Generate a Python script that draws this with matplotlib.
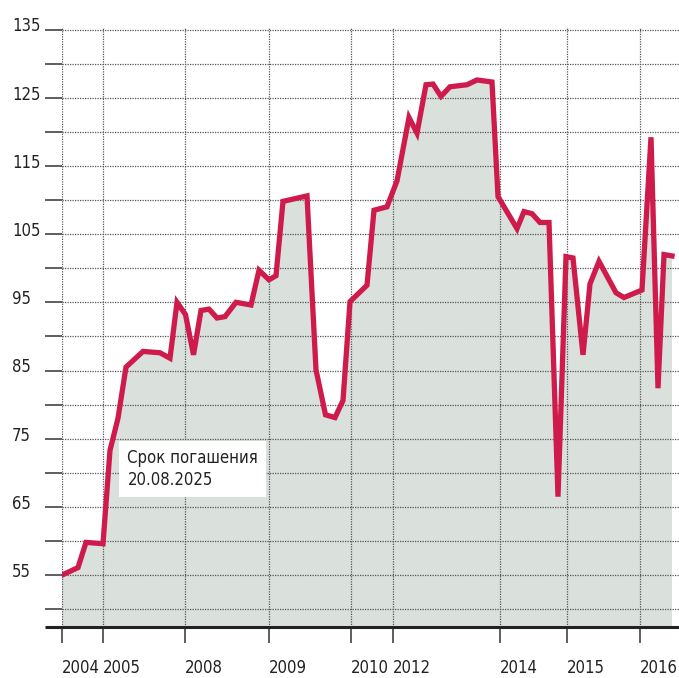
import matplotlib
matplotlib.use('Agg')
import matplotlib.pyplot as plt
import matplotlib.transforms as mtransforms
from matplotlib import font_manager

# narrow font if available, otherwise Roboto
_fonts = font_manager.fontManager.ttflist
if any(f.name == 'Liberation Sans Narrow' for f in _fonts):
    FAMILY, STRETCH, FS = 'Liberation Sans Narrow', 'normal', 13.5
elif any(f.name == 'DejaVu Sans' and 'Condensed' in f.fname for f in _fonts):
    FAMILY, STRETCH, FS = 'DejaVu Sans', 'condensed', 12
else:
    FAMILY, STRETCH, FS = 'Roboto', 'normal', 12
plt.rcParams['font.family'] = [FAMILY, 'DejaVu Sans']
plt.rcParams['font.stretch'] = STRETCH

# positions along the (irregular) time axis and the price series
x_pos = [0, 16, 24, 41, 48, 56, 64, 81, 98, 108, 115, 123.5, 131.5, 139, 147,
         155, 163, 174, 189, 197, 207, 214, 221, 245, 254, 263.5, 273, 281,
         288, 305, 312, 325, 335, 347, 355, 364, 371, 379, 388, 405, 415, 430,
         436, 455, 462, 470, 478, 487, 496, 504, 511, 521, 528, 537, 554, 562,
         580, 589, 596, 602, 610]
price = [55.0, 56.1, 59.8, 59.6, 73.3, 78.0, 85.5, 87.8, 87.6, 86.8, 95.0,
         93.2, 87.3, 93.8, 94.0, 92.7, 92.9, 95.0, 94.6, 99.7, 98.3, 98.9,
         109.8, 110.6, 85.1, 78.5, 78.1, 80.6, 95.1, 97.5, 108.5, 109.0, 112.8,
         122.1, 119.8, 126.9, 127.0, 125.2, 126.6, 126.9, 127.6, 127.3, 110.5,
         105.8, 108.3, 108.0, 106.7, 106.7, 66.5, 101.7, 101.5, 87.3, 97.7,
         101.0, 96.4, 95.7, 96.8, 119.2, 82.4, 102.0, 101.8]

year_pos = [0, 41, 123, 207, 289, 331, 438, 505, 578]
year_labels = ['2004', '2005', '2008', '2009', '2010', '2012', '2014', '2015', '2016']

y_labeled = [55, 65, 75, 85, 95, 105, 115, 125, 135]
y_minor = [50, 60, 70, 80, 90, 100, 110, 120, 130]

RED = '#cf1a4c'
FILL = '#dae0dc'
INK = '#222222'

fig = plt.figure(figsize=(6.79, 6.78), dpi=100)
ax = fig.add_axes([62 / 679, 51 / 678, 617 / 679, 599 / 678])

ax.fill_between(x_pos, price, 0, color=FILL, lw=0, zorder=1)
ax.plot(x_pos, price, color=RED, lw=3.8, solid_joinstyle='miter', zorder=3)

ax.set_xlim(0, 617)
ax.set_ylim(47.39, 135.22)

# grid
ax.set_yticks(y_labeled)
ax.set_yticks(y_minor, minor=True)
ax.set_xticks(year_pos, year_labels, ha='left')
ax.grid(True, which='both', axis='y', color='#555555', lw=0.9, ls=(0, (1, 1)))
ax.grid(True, which='major', axis='x', color='#555555', lw=0.9, ls=(0, (1, 1)))

for s in ['top', 'right', 'left', 'bottom']:
    ax.spines[s].set_visible(False)

ax.tick_params(axis='y', which='both', direction='out', length=12.2, width=1.1,
               color='#333333', labelleft=False)
ax.tick_params(axis='x', direction='out', length=11.5, width=1.1, color='#333333',
               labelsize=FS, labelcolor=INK, pad=11.5)

# thick base line extending left under the tick marks
ax.plot([-17 / 617, 1], [0, 0], transform=ax.transAxes, clip_on=False,
        color=INK, lw=2.2, zorder=4, solid_capstyle='butt')

# left y labels, left aligned
trans = mtransforms.blended_transform_factory(ax.transAxes, ax.transData)
for v in y_labeled:
    ax.text(-50 / 617, v + 0.45, str(v), transform=trans, ha='left', va='center',
            fontsize=FS, color=INK)

ax.text(0.106, 0.297, 'Срок погашения\n20.08.2025', transform=ax.transAxes,
        ha='left', va='top', fontsize=FS, color=INK, linespacing=1.25, zorder=5,
        bbox=dict(boxstyle='square,pad=0.5', facecolor='white', edgecolor='none'))

plt.savefig('out.png', dpi=100, facecolor='white')
plt.close()
